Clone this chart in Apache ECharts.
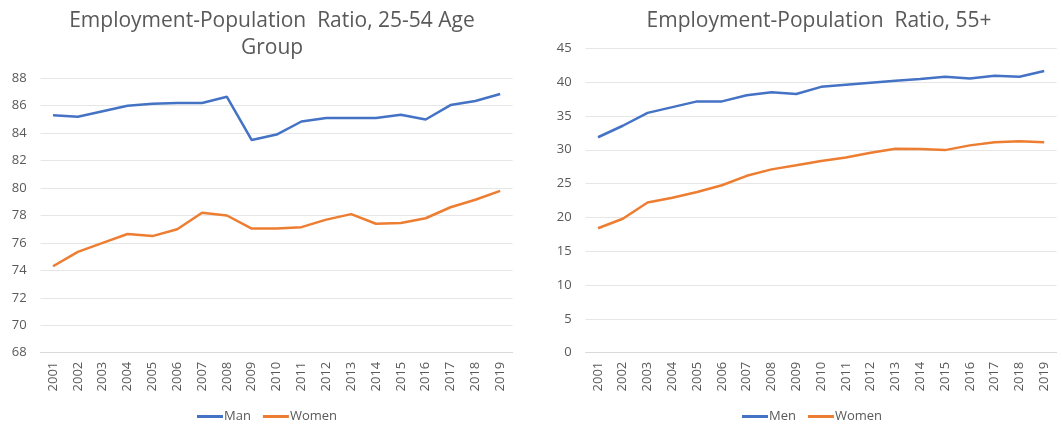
<!DOCTYPE html>
<html>
<head>
<meta charset="utf-8">
<script src="https://cdn.jsdelivr.net/npm/echarts@6/dist/echarts.min.js"></script>
<style>
  html, body { margin: 0; padding: 0; background: #fff; }
  #chart { width: 1062px; height: 427px; }
</style>
</head>
<body>
<div id="chart"></div>
<script>
// years on the category axis
var years = ['2001', '2002', '2003', '2004', '2005', '2006', '2007', '2008', '2009', '2010',
  '2011', '2012', '2013', '2014', '2015', '2016', '2017', '2018', '2019'];

// 25-54 age group
var prime_man = [85.3, 85.2, 85.6, 86.0, 86.15, 86.2, 86.2, 86.65, 83.5, 83.9,
  84.85, 85.1, 85.1, 85.1, 85.35, 85.0, 86.05, 86.35, 86.85];
var prime_women = [74.3, 75.35, 76.0, 76.65, 76.5, 77.0, 78.2, 78.0, 77.05, 77.05,
  77.15, 77.7, 78.1, 77.4, 77.45, 77.8, 78.6, 79.15, 79.8];

// 55+
var older_men = [31.85, 33.55, 35.45, 36.3, 37.15, 37.15, 38.05, 38.5, 38.25, 39.3,
  39.6, 39.9, 40.2, 40.45, 40.8, 40.55, 40.95, 40.8, 41.65];
var older_women = [18.4, 19.8, 22.2, 22.9, 23.75, 24.75, 26.15, 27.1, 27.7, 28.35,
  28.85, 29.55, 30.15, 30.1, 29.95, 30.65, 31.1, 31.25, 31.1];

var FONT = 'Open Sans';
var GREY = '#595959';
var BLUE = '#4472C4';
var ORANGE = '#ED7D31';

function xAxisOf(idx) {
  return {
    type: 'category',
    gridIndex: idx,
    data: years,
    boundaryGap: true,
    axisLine: { show: true, lineStyle: { color: '#d9d9d9' } },
    axisTick: { show: false },
    axisLabel: { interval: 0, rotate: 90, color: GREY, fontFamily: FONT, fontSize: 13, margin: 9 }
  };
}

function yAxisOf(idx, min, max, step) {
  return {
    type: 'value',
    gridIndex: idx,
    min: min,
    max: max,
    interval: step,
    axisLine: { show: false },
    axisTick: { show: false },
    splitLine: { lineStyle: { color: '#e6e6e6' } },
    axisLabel: { color: GREY, fontFamily: FONT, fontSize: 13, margin: 14 }
  };
}

function lineOf(name, data, color, idx) {
  return {
    name: name,
    type: 'line',
    xAxisIndex: idx,
    yAxisIndex: idx,
    data: data,
    symbol: 'none',
    lineStyle: { color: color, width: 2.5 },
    itemStyle: { color: color }
  };
}

var legendStyle = {
  orient: 'horizontal',
  top: 405,
  icon: 'rect', itemWidth: 26, itemHeight: 3, itemGap: 12,
  textStyle: { color: GREY, fontFamily: FONT, fontSize: 13, padding: [0, 0, 0, -4] }
};

var chart = echarts.init(document.getElementById('chart'));

chart.setOption({
  animation: false,
  title: [
    {
      text: 'Employment-Population  Ratio, 25-54 Age\nGroup',
      left: 267, top: 3, textAlign: 'center',
      textStyle: { color: GREY, fontFamily: FONT, fontWeight: 'normal', fontSize: 21, lineHeight: 27 }
    },
    {
      text: 'Employment-Population  Ratio, 55+',
      left: 814, top: 3, textAlign: 'center',
      textStyle: { color: GREY, fontFamily: FONT, fontWeight: 'normal', fontSize: 21, lineHeight: 27 }
    }
  ],
  legend: [
    Object.assign({ data: ['Man', 'Women '], left: 192 }, legendStyle),
    Object.assign({ data: ['Men', 'Women'], left: 737 }, legendStyle)
  ],
  grid: [
    { left: 40.6, top: 78.3, width: 472, height: 274.4 },
    { left: 585.6, top: 48.3, width: 471, height: 304.4 }
  ],
  xAxis: [xAxisOf(0), xAxisOf(1)],
  yAxis: [yAxisOf(0, 68, 88, 2), yAxisOf(1, 0, 45, 5)],
  series: [
    lineOf('Man', prime_man, BLUE, 0),
    lineOf('Women ', prime_women, ORANGE, 0),
    lineOf('Men', older_men, BLUE, 1),
    lineOf('Women', older_women, ORANGE, 1)
  ]
});
</script>
</body>
</html>
